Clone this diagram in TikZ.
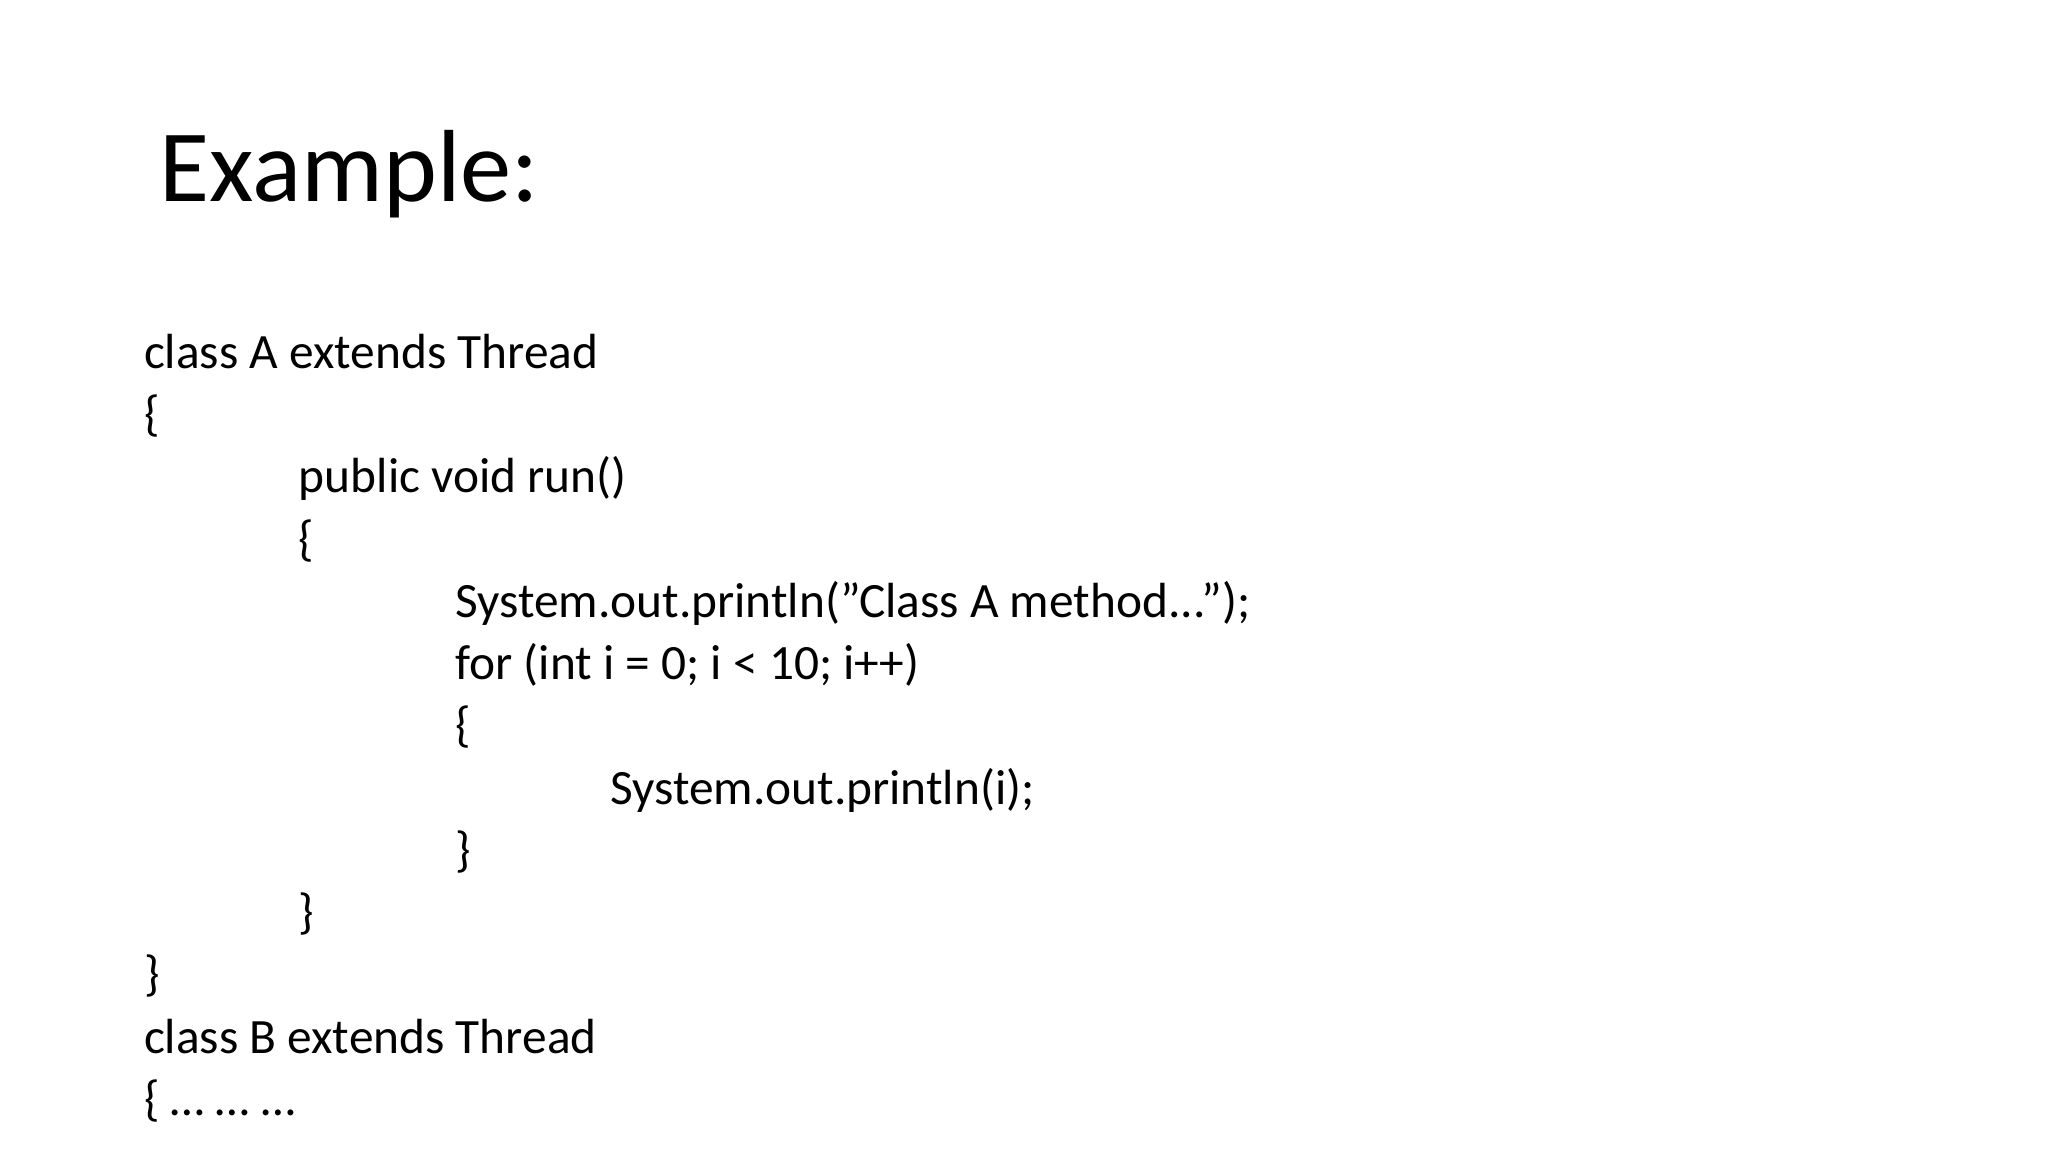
\documentclass[tikz,border=0pt]{standalone}
\usepackage{fontspec}
\setmainfont{Carlito}
\begin{document}
\begin{tikzpicture}[x=0.01cm,y=-0.01cm,
  code/.style={anchor=base west,inner sep=0pt,font=\fontsize{10.6pt}{12pt}\selectfont}]
\useasboundingbox[fill=white] (0,0) rectangle (1546,870);
\node[anchor=base west,inner sep=0pt,font=\fontsize{22pt}{26pt}\selectfont] (title) at (120,152) {Example:};
\node[code] (l1) at (108,278) {class A extends Thread};
\node[code] (l2) at (108,325) {\{};
\node[code] (l3) at (225,372) {public void run()};
\node[code] (l4) at (225,419) {\{};
\node[code] (l5) at (343,466) {System.out.println("Class A method...");};
\node[code] (l6) at (343,513) {for (int i = 0; i < 10; i++)};
\node[code] (l7) at (343,560) {\{};
\node[code] (l8) at (460,607) {System.out.println(i);};
\node[code] (l9) at (343,654) {\}};
\node[code] (l10) at (225,701) {\}};
\node[code] (l11) at (108,748) {\}};
\node[code] (l12) at (108,795) {class B extends Thread};
\node[code] (l13) at (108,842) {\{ … … …};
\end{tikzpicture}
\end{document}
